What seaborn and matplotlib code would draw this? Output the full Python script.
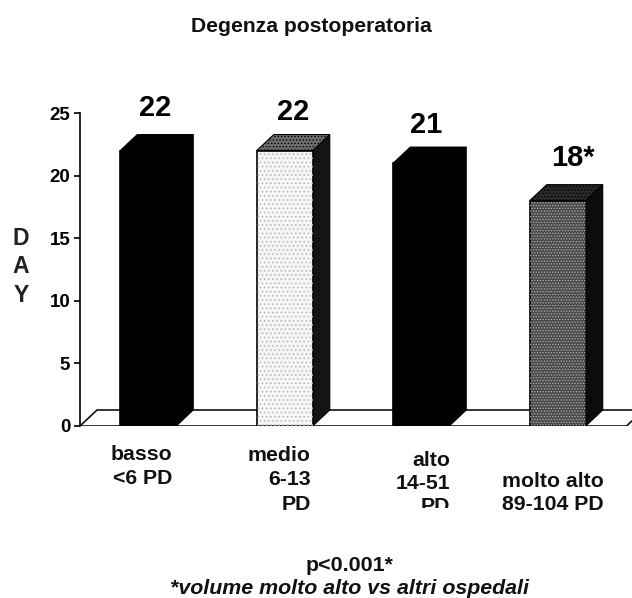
import matplotlib
matplotlib.use("Agg")
import matplotlib.pyplot as plt
import seaborn as sns
from matplotlib.transforms import Bbox

categories = ["basso\n<6 PD", "medio\n6-13\nPD", "alto\n14-51\nPD", "molto alto\n89-104 PD"]
values = [22, 22, 21, 18]
value_labels = ["22", "22", "21", "18*"]
y_ticks = [0, 5, 10, 15, 20, 25]

front_colors = ["#000000", "#f6f6f6", "#000000", "#4a4a4a"]
front_hatch = [None, "....", None, "......"]
hatch_colors = ["#000000", "#b4b4b4", "#000000", "#b0b0b0"]
side_colors = ["#000000", "#141414", "#000000", "#0c0c0c"]
top_colors = ["#000000", "#6e6e6e", "#000000", "#2a2a2a"]

W, H = 632, 598
AX_L, AX_R, AX_TOP, AX_BOT = 80, 632, 113, 426
SPACING = 136.5
DEPTH_X = 17 / SPACING
DEPTH_Y = 16 / ((AX_BOT - AX_TOP) / 25)

plt.rcParams["font.family"] = ["Liberation Sans", "DejaVu Sans"]
plt.rcParams["font.weight"] = "bold"
plt.rcParams["hatch.linewidth"] = 0.6

fig = plt.figure(figsize=(W / 100, H / 100), dpi=100, facecolor="white")
ax = fig.add_axes([AX_L / W, 1 - AX_BOT / H, (AX_R - AX_L) / W, (AX_BOT - AX_TOP) / H])

sns.barplot(x=categories, y=values, hue=categories, palette=front_colors,
            width=0.41, saturation=1, legend=False, ax=ax, zorder=3)

xl, xr = -0.5, -0.5 + (AX_R - AX_L) / SPACING
ax.set_xlim(xl, xr)
ax.set_ylim(0, 25)

# floor of the 3D box
ax.fill([xl, xr - 0.04, xr - 0.04 + DEPTH_X, xl + DEPTH_X], [0, 0, DEPTH_Y, DEPTH_Y],
        facecolor="white", edgecolor="#111111", linewidth=1.2, zorder=1)

for i, p in enumerate(ax.patches[:len(values)]):
    x0, w, h = p.get_x(), p.get_width(), p.get_height()
    x1 = x0 + w
    p.set_edgecolor("black")
    p.set_linewidth(1.2)
    if front_hatch[i]:
        ax.bar(x0 + w / 2, h, width=w, facecolor="none", edgecolor=hatch_colors[i],
               hatch=front_hatch[i], linewidth=0, zorder=3.5)
    # side and top faces follow the bar's own value
    ax.fill([x1, x1 + DEPTH_X, x1 + DEPTH_X, x1], [0, DEPTH_Y, h + DEPTH_Y, h],
            facecolor=side_colors[i], edgecolor="black", linewidth=0.8, zorder=2.5)
    ax.fill([x0, x0 + DEPTH_X, x1 + DEPTH_X, x1], [h, h + DEPTH_Y, h + DEPTH_Y, h],
            facecolor=top_colors[i], edgecolor="black", linewidth=0.8, zorder=2.5,
            hatch="....." if front_hatch[i] else None)

# value labels above the bars
label_dx = [7, 8, 5, 15]
label_dy = [35, 31, 30, 35]
for i, (v, lab) in enumerate(zip(values, value_labels)):
    ax.annotate(lab, xy=(i, v), xytext=(label_dx[i] * 0.72, label_dy[i] * 0.72),
                textcoords="offset points", ha="center", va="baseline",
                fontsize=21, fontweight="bold", color="black", annotation_clip=False)

# category labels, right aligned under each bar
ax.set_xticks(range(len(categories)))
ax.set_xticklabels([])
ax.tick_params(axis="x", length=0)
cat_right = [24, 26, 29, 46]
cat_top = [19, 20, 25, 46]
cat_spacing = [1.35, 1.35, 1.25, 1.25]
for i, c in enumerate(categories):
    t = ax.annotate(c, xy=(i, 0), xytext=(cat_right[i] * 0.72, -cat_top[i] * 0.72),
                    textcoords="offset points", ha="right", va="top", multialignment="right",
                    fontsize=15.3, fontweight="bold", color="#111111",
                    linespacing=cat_spacing[i], annotation_clip=False)
    if i == 2:  # third line cut by the slide in the original
        t.set_clip_box(Bbox.from_extents(0, H - 508, W, H))
        t.set_clip_on(True)

ax.set_yticks(y_ticks)
ax.set_yticklabels([str(t) for t in y_ticks], fontsize=13.5, fontweight="bold")
ax.tick_params(axis="y", length=4, width=1.2, pad=3, color="black")

ax.set_ylabel("D\nA\nY", rotation=0, fontsize=16.6, fontweight="bold", linespacing=1.3,
              ha="center", va="center", color="#222222")
ax.yaxis.set_label_coords((21 - AX_L) / (AX_R - AX_L), (AX_BOT - 267) / (AX_BOT - AX_TOP))

for s in ["top", "right", "bottom"]:
    ax.spines[s].set_visible(False)
ax.spines["left"].set_linewidth(1.2)
ax.set_facecolor("none")
ax.set_xlabel("")

fig.text(311.5 / W, 1 - 32 / H, "Degenza postoperatoria", ha="center", va="baseline",
         fontsize=15.25, fontweight="bold", color="#111111")
fig.text(350 / W, 1 - 571 / H, "p<0.001*", ha="center", va="baseline",
         fontsize=15.4, fontweight="bold", color="#111111")
fig.text(350 / W, 1 - 594 / H, "*volume molto alto vs altri ospedali", ha="center", va="baseline",
         fontsize=15.4, fontweight="bold", style="italic", color="#111111")

fig.savefig("out.png", dpi=100, facecolor="white")
